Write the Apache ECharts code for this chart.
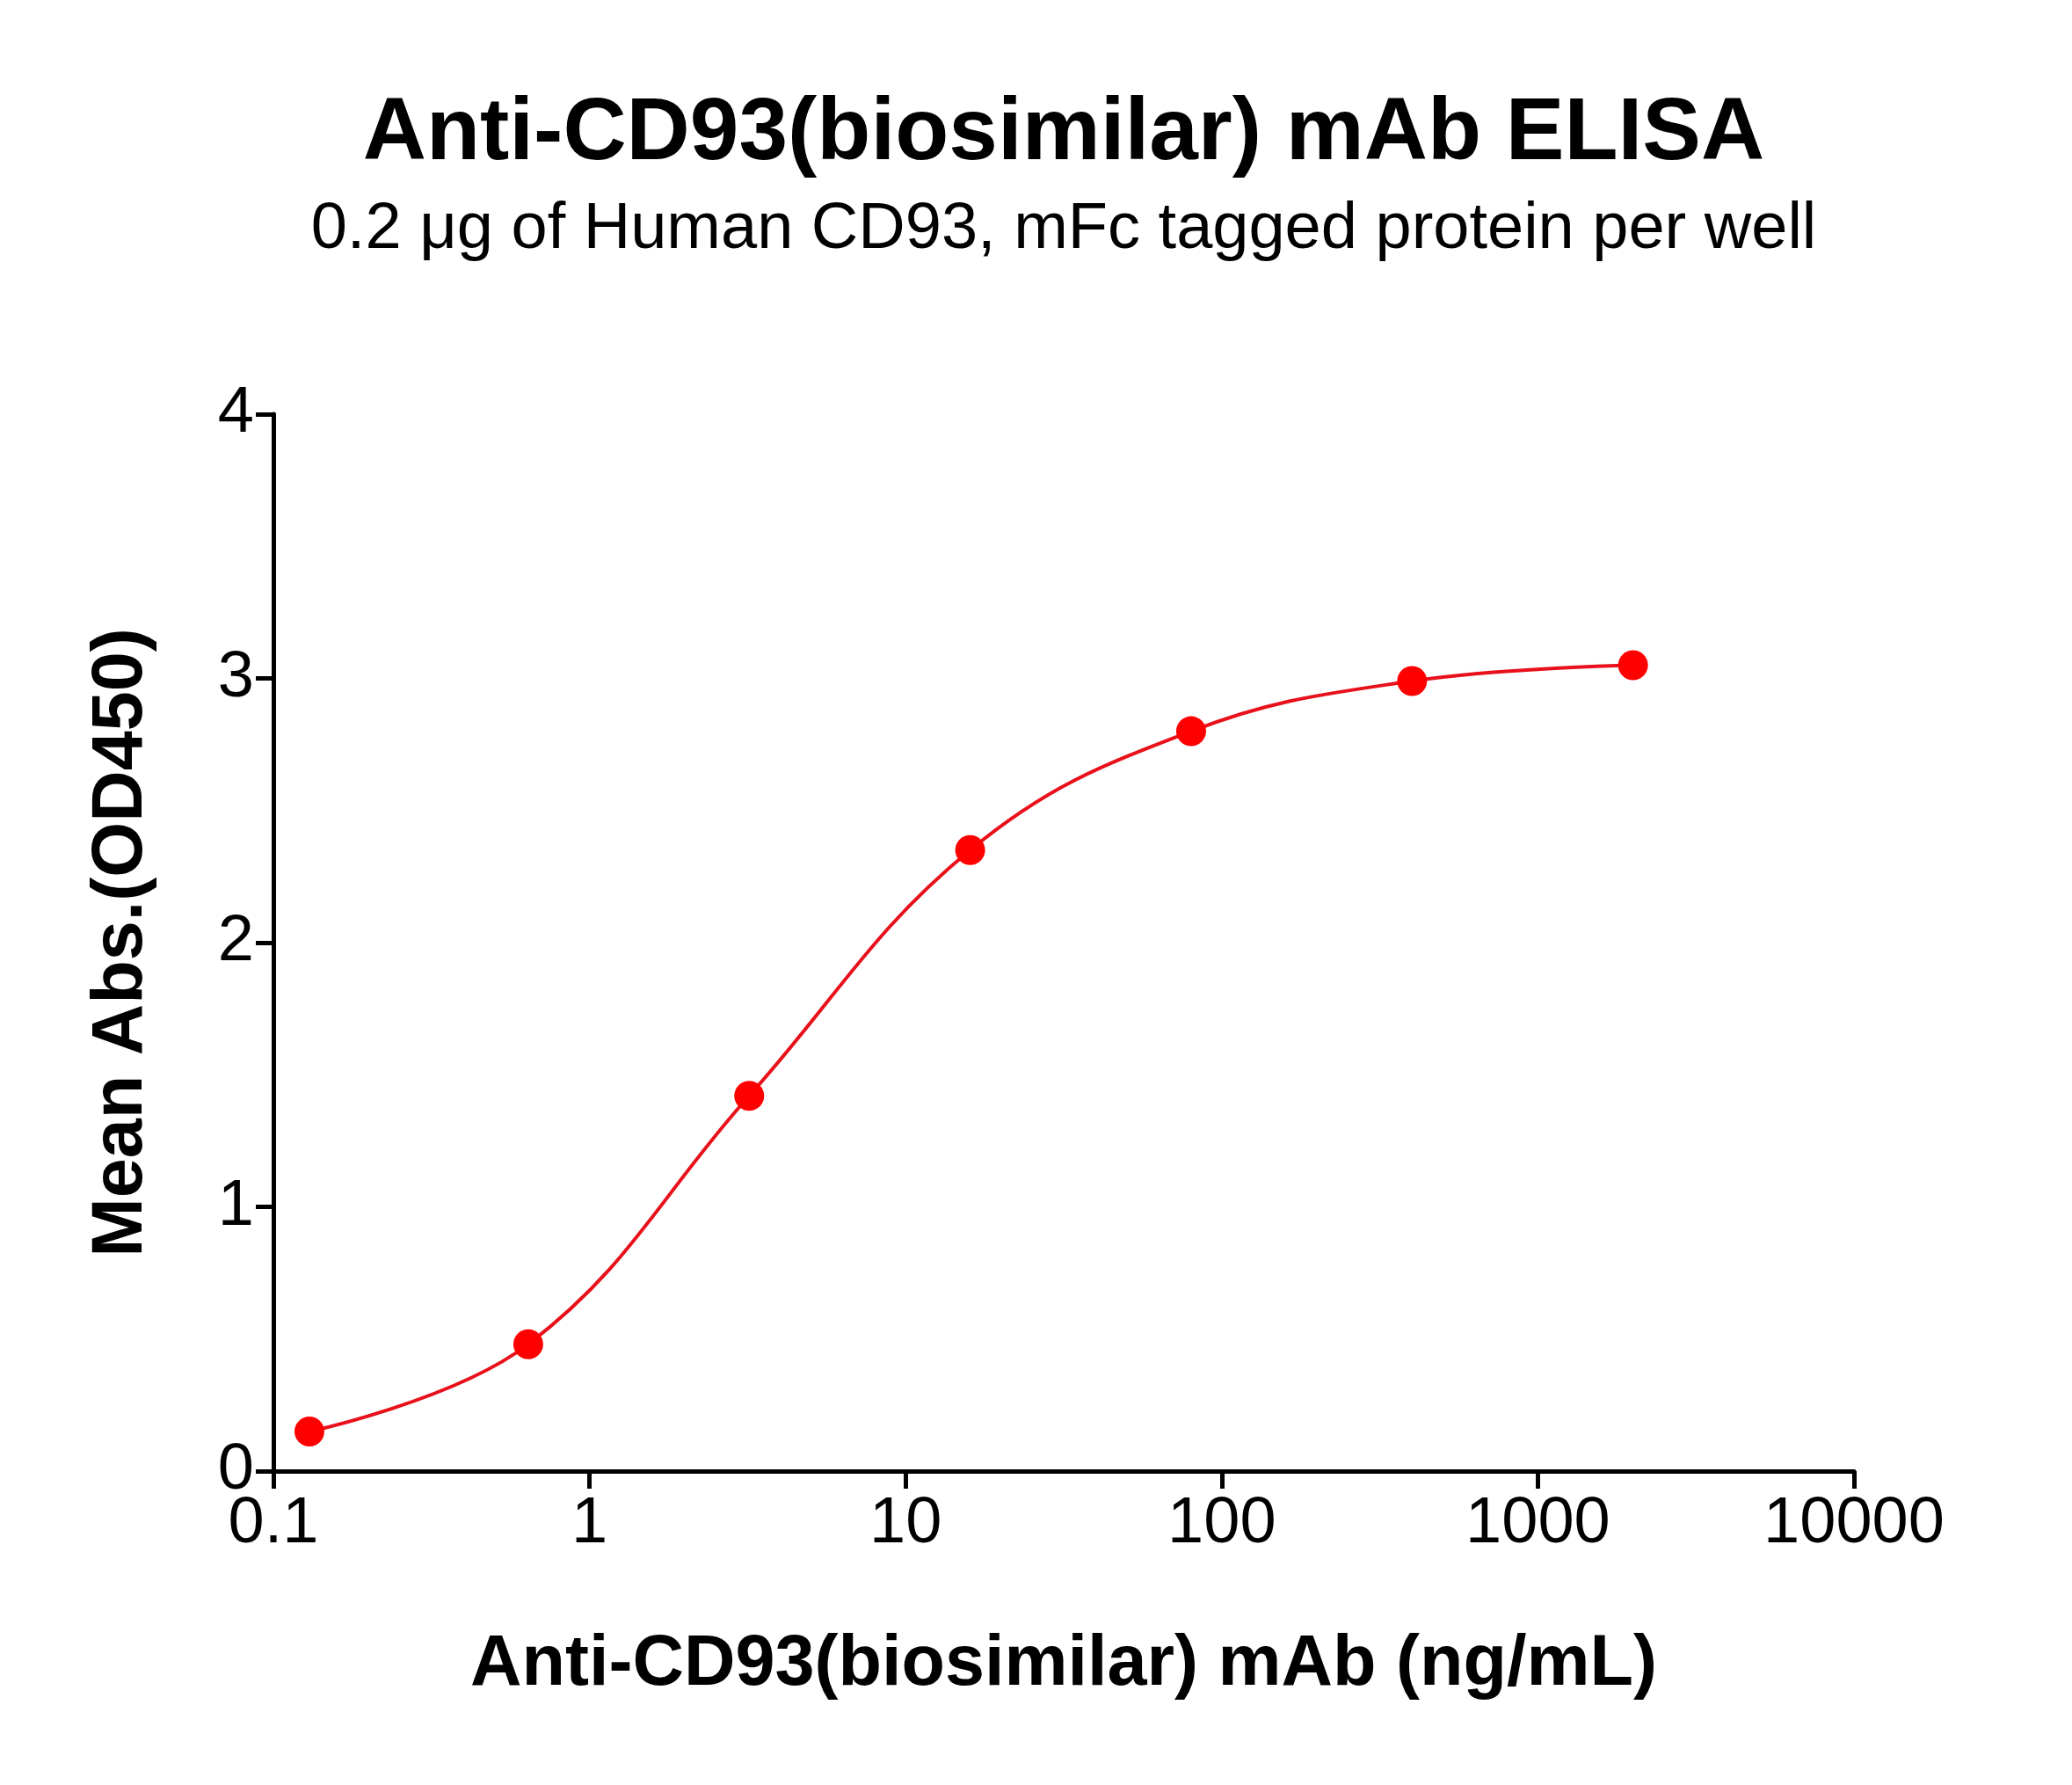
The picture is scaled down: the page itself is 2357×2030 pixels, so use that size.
<!DOCTYPE html>
<html>
<head>
<meta charset="utf-8">
<script src="https://cdn.jsdelivr.net/npm/echarts@6/dist/echarts.min.js"></script>
<style>html,body{margin:0;padding:0;background:#fff}#main{width:2357px;height:2030px}</style>
</head>
<body>
<div id="main"></div>
<script>
var concentrations = [0.13, 0.64, 3.2, 16, 80, 400, 2000];
var absorbance = [0.15, 0.48, 1.42, 2.35, 2.80, 2.99, 3.05];
var yTicks = [0, 1, 2, 3, 4];

var chart = echarts.init(document.getElementById('main'));
var font = '"Liberation Sans", Arial, sans-serif';
var pts = concentrations.map(function (c, i) { return [c, absorbance[i]]; });

chart.setOption({
    animation: false,
    title: {
        text: 'Anti-CD93(biosimilar) mAb ELISA',
        subtext: '0.2 \u03bcg of Human CD93, mFc tagged protein per well',
        left: 1205, top: 98, textAlign: 'center', itemGap: 22,
        textStyle: { fontFamily: font, fontSize: 100, fontWeight: 'bold', color: '#000' },
        subtextStyle: { fontFamily: font, fontSize: 74, color: '#000' }
    },
    grid: { left: 311, right: 248, top: 471, bottom: 357 },
    xAxis: {
        type: 'log', logBase: 10, min: 0.1, max: 10000,
        name: 'Anti-CD93(biosimilar) mAb (ng/mL)', nameLocation: 'middle', nameGap: 180,
        nameTextStyle: { fontFamily: font, fontSize: 81, fontWeight: 'bold', color: '#000' },
        axisLine: { lineStyle: { color: '#000', width: 5 } },
        axisTick: { length: 20, lineStyle: { color: '#000', width: 5 } },
        minorTick: { show: false },
        splitLine: { show: false },
        axisLabel: { fontFamily: font, fontSize: 74, color: '#000', margin: 24,
            formatter: function (v) { return String(+v.toPrecision(6)); } }
    },
    yAxis: {
        type: 'value', min: yTicks[0], max: yTicks[yTicks.length - 1], interval: 1,
        name: 'Mean Abs.(OD450)', nameLocation: 'middle', nameGap: 132,
        nameTextStyle: { fontFamily: font, fontSize: 81, fontWeight: 'bold', color: '#000' },
        axisLine: { show: true, lineStyle: { color: '#000', width: 5 } },
        axisTick: { show: true, length: 20, lineStyle: { color: '#000', width: 5 } },
        splitLine: { show: false },
        axisLabel: { fontFamily: font, fontSize: 74, color: '#000', margin: 22 }
    },
    series: [{
        type: 'line', data: pts, smooth: 0.4,
        symbol: 'circle', symbolSize: 34,
        itemStyle: { color: '#ff0000' },
        lineStyle: { color: '#e8101a', width: 4 }
    }]
});
</script>
</body>
</html>
